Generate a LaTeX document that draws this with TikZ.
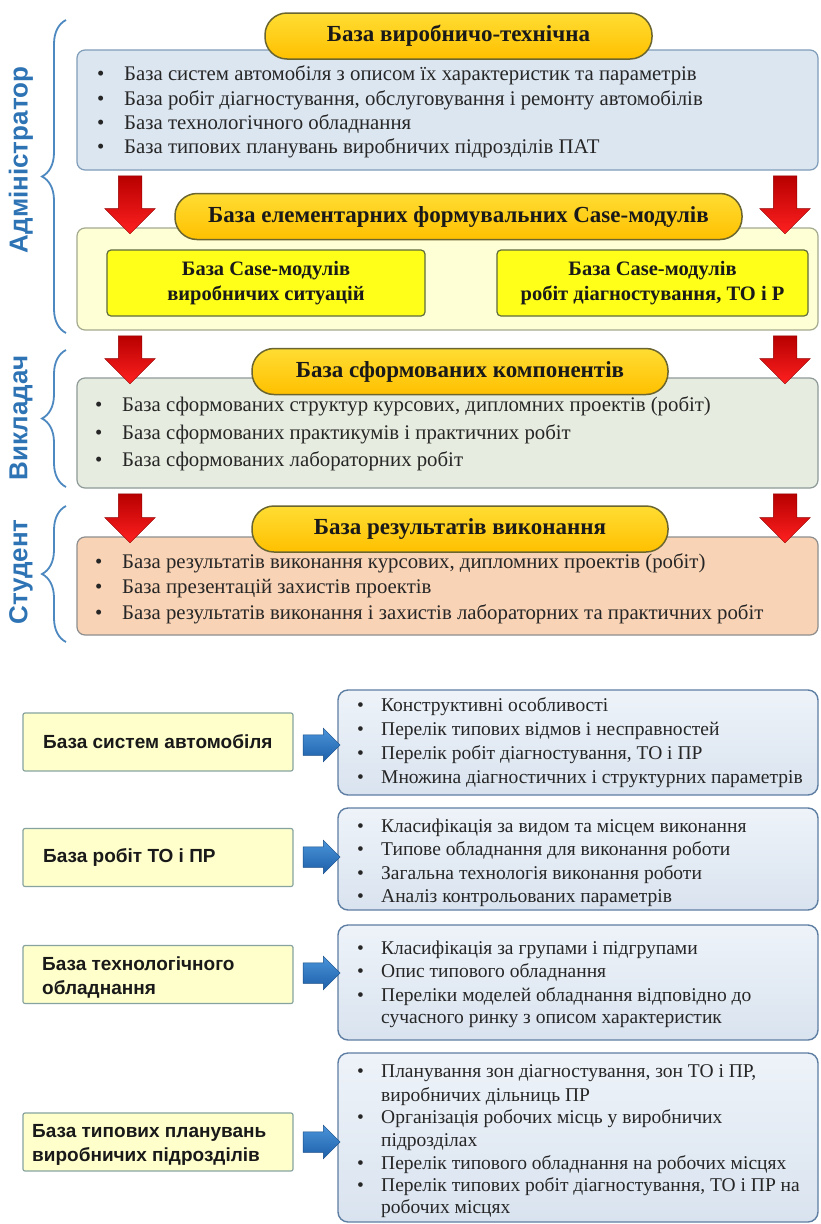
\documentclass[tikz,border=0pt]{standalone}
\usepackage{fontspec}
\setmainfont{Liberation Serif}
\newfontfamily\sansf{Liberation Sans}
\usetikzlibrary{shapes.arrows,decorations.pathreplacing}
\definecolor{lblblue}{HTML}{2E74B5}
\definecolor{bxA}{HTML}{DCE6F1}
\definecolor{bxAl}{HTML}{7F9DB9}
\definecolor{bxB}{HTML}{FFFFD6}
\definecolor{bxBl}{HTML}{A3AA8E}
\definecolor{bxC}{HTML}{E7ECE0}
\definecolor{bxCl}{HTML}{8E9A98}
\definecolor{bxD}{HTML}{F9D3B5}
\definecolor{bxDl}{HTML}{8E8E8E}
\definecolor{gold}{HTML}{FFC000}
\definecolor{goldl}{HTML}{FFDD33}
\definecolor{pillline}{HTML}{6B6530}
\definecolor{inyel}{HTML}{FFFF1A}
\definecolor{inyell}{HTML}{5E6B3C}
\definecolor{lyel}{HTML}{FFFFCC}
\definecolor{lyell}{HTML}{86A3A0}
\definecolor{rbxt}{HTML}{EEF3F9}
\definecolor{rbxb}{HTML}{D9E3EF}
\definecolor{rbxl}{HTML}{5F7EA3}
\definecolor{redA}{HTML}{FF2020}
\definecolor{redB}{HTML}{B80000}
\definecolor{bluA}{HTML}{4A94DA}
\definecolor{bluB}{HTML}{1C5FA8}
\newcommand\tb[1]{\strut\makebox[27pt][l]{\textbullet}#1}
\newcommand\bb[1]{\strut\makebox[24pt][l]{\textbullet}#1}
\newcommand\bc[1]{\strut\hspace*{24pt}#1}
\tikzset{
  panel/.style={draw=#1, line width=1.2pt, rounded corners=8pt, inner sep=0pt},
  pill/.style={draw=pillline, line width=1.5pt, rounded corners=22pt, top color=goldl, bottom color=gold,
    minimum height=46pt, inner sep=0pt, font=\fontsize{23}{27}\selectfont\bfseries, text=black!90},
  inbox/.style={draw=inyell, line width=1.2pt, rounded corners=4pt, fill=inyel, minimum width=#1,
    minimum height=66pt, inner sep=0pt, align=center, font=\fontsize{20.5}{25}\selectfont\bfseries, text=black!90},
  tline/.style={anchor=west, inner sep=0pt, font=\fontsize{20.8}{25}\selectfont, text=black!85},
  bline/.style={anchor=west, inner sep=0pt, font=\fontsize{19.5}{23.5}\selectfont, text=black!85},
  redarrow/.style={single arrow, rotate=-90, inner xsep=0pt, inner ysep=11.5pt, single arrow head extend=13.5pt,
    minimum height=#1, draw=redB!80!black, line width=0.5pt, top color=redB, bottom color=redA},
  bluarrow/.style={single arrow, inner xsep=0pt, inner ysep=10pt, single arrow head extend=6.5pt,
    minimum height=37pt, draw=bluB!80!black, line width=0.5pt, top color=bluA, bottom color=bluB},
  lbox/.style={draw=lyell, line width=1.2pt, rounded corners=2pt, fill=lyel, minimum width=270pt,
    minimum height=58pt, inner sep=0pt},
  ltext/.style={anchor=west, inner sep=0pt, align=left, font=\sansf\bfseries\fontsize{19}{24}\selectfont, text=black!90},
  rbox/.style={draw=rbxl, line width=1.4pt, rounded corners=10pt, top color=rbxt, bottom color=rbxb,
    minimum width=480pt, inner sep=0pt},
  brc/.style={draw=lblblue!85!white, line width=1.8pt, decorate, decoration={brace, amplitude=24pt}},
  lbl/.style={rotate=90, inner sep=0pt, font=\sansf\bfseries\fontsize{26}{30}\selectfont, text=lblblue}
}
\begin{document}
\begin{tikzpicture}[x=1pt,y=-1pt]
\useasboundingbox[fill=white] (0,0) rectangle (821,1224);

% ---------- top panels ----------
\node[panel=bxAl, fill=bxA, minimum width=741pt, minimum height=120pt] (pA) at (447.5,110) {};
\node[panel=bxBl, fill=bxB, minimum width=741pt, minimum height=102pt] (pB) at (447.5,279) {};
\node[panel=bxCl, fill=bxC, minimum width=741pt, minimum height=110pt] (pC) at (447.5,433) {};
\node[panel=bxDl, fill=bxD, minimum width=741pt, minimum height=98pt] (pD) at (447.5,586) {};

\node[pill, minimum width=387pt] (tA) at (458.5,36) {База виробничо-технічна};
\node[pill, minimum width=567pt] (tB) at (458.5,216.5) {База елементарних формувальних Case-модулів};
\node[pill, minimum width=416pt] (tC) at (460,371.5) {База сформованих компонентів};
\node[pill, minimum width=416pt] (tD) at (460,529) {База результатів виконання};

\node[tline] (a1) at (97,75) {\tb{База систем автомобіля з описом їх характеристик та параметрів}};
\node[tline] (a2) at (97,100) {\tb{База робіт діагностування, обслуговування і ремонту автомобілів}};
\node[tline] (a3) at (97,124) {\tb{База технологічного обладнання}};
\node[tline] (a4) at (97,148) {\tb{База типових планувань виробничих підрозділів ПАТ}};

\node[inbox=318pt] (iL) at (266,283) {База Case-модулів\\виробничих ситуацій};
\node[inbox=311pt] (iR) at (652.5,283) {База Case-модулів\\робіт діагностування, ТО і Р};

\node[tline] (c1) at (95,406) {\tb{База сформованих структур курсових, дипломних проектів (робіт)}};
\node[tline] (c2) at (95,434) {\tb{База сформованих практикумів і практичних робіт}};
\node[tline] (c3) at (95,461) {\tb{База сформованих лабораторних робіт}};

\node[tline] (d1) at (95,563) {\tb{База результатів виконання курсових, дипломних проектів (робіт)}};
\node[tline] (d2) at (95,588) {\tb{База презентацій захистів проектів}};
\node[tline] (d3) at (95,614) {\tb{База результатів виконання і захистів лабораторних та практичних робіт}};

% red arrows between panels
\node[redarrow=58pt] (rA1) at (130,199) {};
\node[redarrow=58pt] (rA2) at (785,199) {};
\node[redarrow=48pt] (rB1) at (130,354) {};
\node[redarrow=48pt] (rB2) at (785,354) {};
\node[redarrow=49pt] (rC1) at (130,512.5) {};
\node[redarrow=49pt] (rC2) at (785,512.5) {};

% braces and role labels
\coordinate (kA1) at (66,333); \coordinate (kA2) at (66,20);
\coordinate (kB1) at (66,487); \coordinate (kB2) at (66,350);
\coordinate (kC1) at (66,642); \coordinate (kC2) at (66,506);
\draw[brc] (kA1) -- (kA2);
\draw[brc] (kB1) -- (kB2);
\draw[brc] (kC1) -- (kC2);
\node[lbl] (lA) at (21,160) {Адміністратор};
\node[lbl] (lB) at (21,418) {Викладач};
\node[lbl] (lC) at (21,572) {Студент};

% ---------- bottom part ----------
\node[lbox] (L1) at (158,742) {};
\node[lbox] (L2) at (158,857.5) {};
\node[lbox] (L3) at (158,974.5) {};
\node[lbox] (L4) at (158,1142) {};
\node[ltext] (L1t) at (43,742) {База систем автомобіля};
\node[ltext] (L2t) at (43,857.5) {База робіт ТО і ПР};
\node[ltext] (L3t) at (42,977) {База технологічного\\обладнання};
\node[ltext] (L4t) at (32,1145) {База типових планувань\\виробничих підрозділів};

\node[rbox, minimum height=105pt] (R1) at (578,742.5) {};
\node[rbox, minimum height=102pt] (R2) at (578,859) {};
\node[rbox, minimum height=115pt] (R3) at (578,982.5) {};
\node[rbox, minimum height=169pt] (R4) at (578,1137.5) {};

\node[bluarrow] (bA1) at (316.5,745) {};
\node[bluarrow] (bA2) at (316.5,857) {};
\node[bluarrow] (bA3) at (316.5,973) {};
\node[bluarrow] (bA4) at (316.5,1142) {};

\node[bline] (r11) at (357,707) {\bb{Конструктивні особливості}};
\node[bline] (r12) at (357,731) {\bb{Перелік типових відмов і несправностей}};
\node[bline] (r13) at (357,755) {\bb{Перелік робіт діагностування, ТО і ПР}};
\node[bline] (r14) at (357,779) {\bb{Множина діагностичних і структурних параметрів}};

\node[bline] (r21) at (357,828) {\bb{Класифікація за видом та місцем виконання}};
\node[bline] (r22) at (357,851) {\bb{Типове обладнання для виконання роботи}};
\node[bline] (r23) at (357,875) {\bb{Загальна технологія виконання роботи}};
\node[bline] (r24) at (357,898) {\bb{Аналіз контрольованих параметрів}};

\node[bline] (r31) at (357,950) {\bb{Класифікація за групами і підгрупами}};
\node[bline] (r32) at (357,973) {\bb{Опис типового обладнання}};
\node[bline] (r33) at (357,997) {\bb{Переліки моделей обладнання відповідно до}};
\node[bline] (r34) at (357,1019) {\bc{сучасного ринку з описом характеристик}};

\node[bline] (r41) at (357,1073) {\bb{Планування зон діагностування, зон ТО і ПР,}};
\node[bline] (r42) at (357,1097) {\bc{виробничих дільниць ПР}};
\node[bline] (r43) at (357,1119) {\bb{Організація робочих місць у виробничих}};
\node[bline] (r44) at (357,1142) {\bc{підрозділах}};
\node[bline] (r45) at (357,1165) {\bb{Перелік типового обладнання на робочих місцях}};
\node[bline] (r46) at (357,1187) {\bb{Перелік типових робіт діагностування, ТО і ПР на}};
\node[bline] (r47) at (357,1209) {\bc{робочих місцях}};
\end{tikzpicture}
\end{document}
